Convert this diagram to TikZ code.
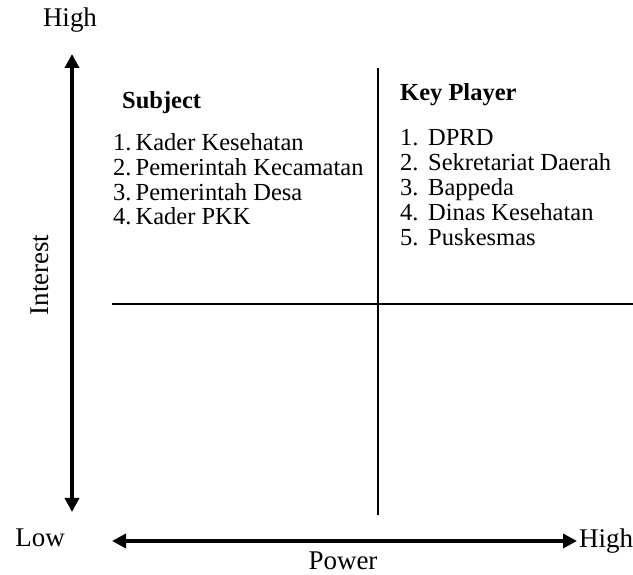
\documentclass[tikz,border=0pt]{standalone}
\usepackage{fontspec}
\setmainfont{Liberation Serif}
\usetikzlibrary{arrows.meta}
\newcommand{\numbox}[1]{\makebox[28pt][l]{#1}}
\begin{document}
\begin{tikzpicture}[x=1pt,y=1pt,
  lbl/.style={font=\fontsize{27}{30}\selectfont, inner sep=0pt},
  item/.style={font=\fontsize{24.5}{27}\selectfont, anchor=west, inner sep=0pt, text height=16pt, text depth=5pt},
  head/.style={font=\fontsize{24.5}{27}\selectfont\bfseries, anchor=west, inner sep=0pt, text height=16pt, text depth=5pt},
  axisarrow/.style={line width=4pt, {Triangle[length=14pt,width=14pt]}-{Triangle[length=14pt,width=14pt]}},
  divider/.style={line width=2.5pt}]
\useasboundingbox (0,0) rectangle (633,575);
% axis end points
\coordinate (vtop) at (72,521);
\coordinate (vbot) at (72,63);
\coordinate (hleft) at (112,34);
\coordinate (hright) at (577,34);
\coordinate (dtop) at (378,507);
\coordinate (dbot) at (378,60);
\coordinate (mleft) at (112,271);
\coordinate (mright) at (633,271);
% labels
\node[lbl] (hightop) at (70,555) {High};
\node[lbl, rotate=90] (interest) at (40,300) {Interest};
\node[lbl] (low) at (40,37) {Low};
\node[lbl, anchor=west] (highright) at (579,34) {High};
\node[lbl] (power) at (343,14) {Power};
% axes
\draw[axisarrow] (vbot) -- (vtop);
\draw[axisarrow] (hleft) -- (hright);
\draw[divider] (dtop) -- (dbot);
\draw[divider] (mleft) -- (mright);
% left quadrant
\node[head] (subj) at (122,472) {Subject};
\node[item] (s1) at (113,430) {1.\,Kader Kesehatan};
\node[item] (s2) at (113,405) {2.\,Pemerintah Kecamatan};
\node[item] (s3) at (113,380) {3.\,Pemerintah Desa};
\node[item] (s4) at (113,356) {4.\,Kader PKK};
% right quadrant
\node[head] (kp) at (400,480) {Key Player};
\node[item] (k1) at (400,435) {\numbox{1.}DPRD};
\node[item] (k2) at (400,410) {\numbox{2.}Sekretariat Daerah};
\node[item] (k3) at (400,385) {\numbox{3.}Bappeda};
\node[item] (k4) at (400,360) {\numbox{4.}Dinas Kesehatan};
\node[item] (k5) at (400,335) {\numbox{5.}Puskesmas};
\end{tikzpicture}
\end{document}
